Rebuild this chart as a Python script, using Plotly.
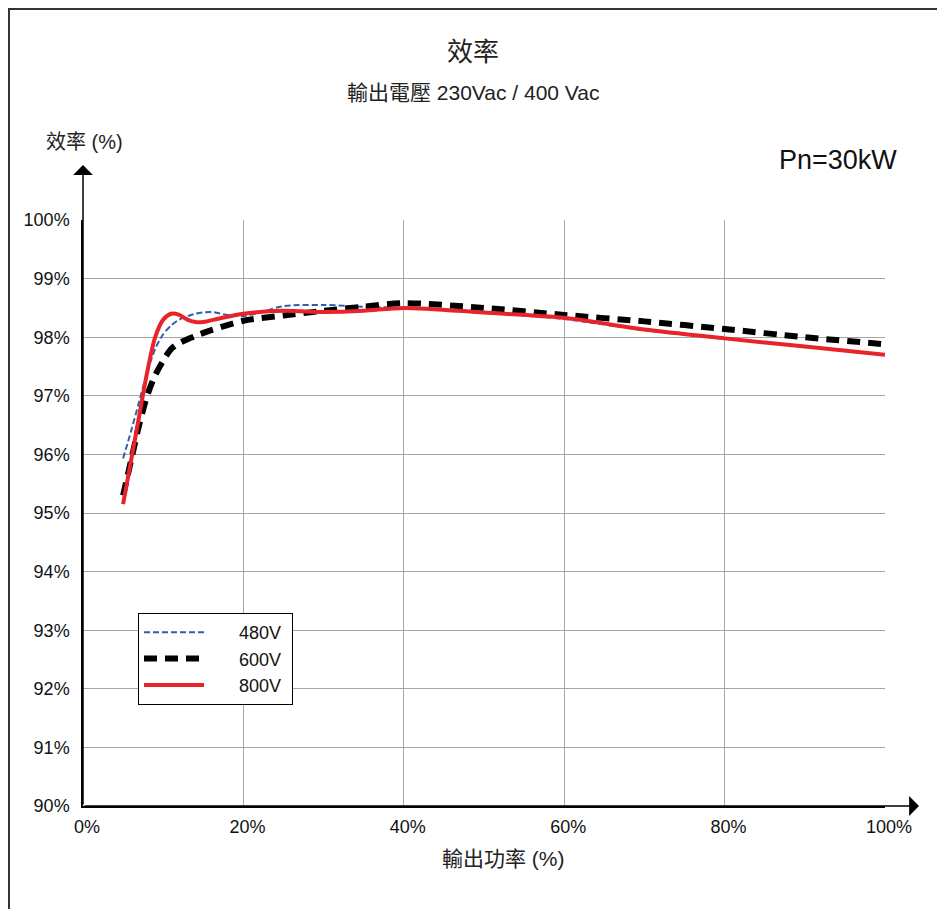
import plotly.graph_objects as go

# ---- data ----
load_480 = [5, 6, 7, 8, 9, 10, 11, 12, 14, 16, 18, 20, 22, 25, 30, 35, 40, 50, 60, 70, 80, 90, 100]
eff_480 = [95.93, 96.4, 96.9, 97.4, 97.8, 98.05, 98.2, 98.3, 98.4, 98.43, 98.38, 98.36, 98.42, 98.53,
           98.55, 98.52, 98.5, 98.42, 98.31, 98.12, 97.98, 97.84, 97.70]

load_600 = [5, 6, 7, 8, 9, 10, 11, 12, 14, 16, 20, 25, 30, 35, 40, 50, 60, 70, 80, 90, 100]
eff_600 = [95.3, 95.9, 96.5, 97.0, 97.35, 97.6, 97.8, 97.9, 98.02, 98.12, 98.28, 98.37, 98.45,
           98.52, 98.58, 98.5, 98.38, 98.27, 98.14, 98.0, 97.88]

load_800 = [5, 6, 7, 8, 9, 10, 11, 12, 13, 14, 15, 17, 20, 25, 30, 35, 40, 50, 60, 70, 80, 90, 100]
eff_800 = [95.15, 95.9, 96.65, 97.4, 98.0, 98.3, 98.4, 98.38, 98.3, 98.26, 98.26, 98.32, 98.4, 98.45,
           98.43, 98.45, 98.5, 98.42, 98.33, 98.13, 97.98, 97.84, 97.70]

series_names = ["480V", "600V", "800V"]
x_ticks = [0, 20, 40, 60, 80, 100]
y_ticks = [90, 91, 92, 93, 94, 95, 96, 97, 98, 99, 100]

title_text = "效率"
subtitle_text = "輸出電壓 230Vac / 400 Vac"
y_title = "效率 (%)"
x_title = "輸出功率 (%)"
rating_text = "Pn=30kW"

CJK = "Liberation Sans, Arial, Noto Sans CJK TC, Noto Sans CJK SC, sans-serif"
LAT = "Liberation Sans, Arial, sans-serif"

NB = "\u00a0"


def legend_label(s):
    return NB * 6 + s + NB


fig = go.Figure()
fig.add_trace(go.Scatter(x=load_480, y=eff_480, name=legend_label(series_names[0]), mode="lines",
                         line=dict(color="#2f5fad", width=2, dash="6px,3px", shape="spline", smoothing=0.8)))
fig.add_trace(go.Scatter(x=load_600, y=eff_600, name=legend_label(series_names[1]), mode="lines",
                         line=dict(color="#000000", width=6, dash="13px,8px", shape="spline", smoothing=0.8)))
fig.add_trace(go.Scatter(x=load_800, y=eff_800, name=legend_label(series_names[2]), mode="lines",
                         line=dict(color="#e8232a", width=4, shape="spline", smoothing=0.8)))

# page has an 8px body margin: figure is placed at (8, 8)
OFF = 8
W, H = 937, 901
L, T = 83 - OFF, 220 - OFF
R = W - (885 - OFF)
B = H - (806 - OFF)
pw, ph = W - L - R, H - T - B


def px_x(p):
    return (p - OFF - L) / pw


def px_y(p):
    return (H - B - (p - OFF)) / ph


fig.update_layout(
    width=W, height=H, autosize=False,
    margin=dict(l=L, r=R, t=T, b=B),
    paper_bgcolor="white", plot_bgcolor="white",
    showlegend=True,
    legend=dict(x=px_x(138), y=px_y(613), xanchor="left", yanchor="top",
                bordercolor="#000000", borderwidth=1, bgcolor="white",
                font=dict(family=LAT, size=18, color="#111"), itemwidth=60,
                traceorder="normal"),
    xaxis=dict(range=[0, 100], tickvals=x_ticks, ticktext=[f"{v}%" for v in x_ticks],
               showgrid=True, gridcolor="#a6a6a6", gridwidth=1, zeroline=False,
               showline=True, linecolor="#000", linewidth=1.5, ticks="",
               tickfont=dict(family=LAT, size=18, color="#111"), ticklabelstandoff=4,
               ticklabelshift=4),
    yaxis=dict(range=[90, 100], tickvals=y_ticks, ticktext=[f"{v}%" for v in y_ticks],
               showgrid=True, gridcolor="#a6a6a6", gridwidth=1, zeroline=False,
               showline=True, linecolor="#000", linewidth=1.5, ticks="",
               tickfont=dict(family=LAT, size=18, color="#111"), ticklabelstandoff=8),
)

fig.add_annotation(text=title_text, x=px_x(473), xref="paper", y=px_y(52), yref="paper", showarrow=False,
                   xanchor="center", yanchor="middle", font=dict(family=CJK, size=26, color="#222"))
fig.add_annotation(text=subtitle_text, x=px_x(473), xref="paper", y=px_y(92), yref="paper", showarrow=False,
                   xanchor="center", yanchor="middle", font=dict(family=CJK, size=21, color="#222"))
fig.add_annotation(text=y_title, x=px_x(84), xref="paper", y=px_y(142), yref="paper", showarrow=False,
                   xanchor="center", yanchor="middle", font=dict(family=CJK, size=20, color="#222"))
fig.add_annotation(text=x_title, x=px_x(503), xref="paper", y=px_y(858), yref="paper", showarrow=False,
                   xanchor="center", yanchor="middle", font=dict(family=CJK, size=21, color="#222"))
fig.add_annotation(text=rating_text, x=px_x(899), xref="paper", y=px_y(160), yref="paper", showarrow=False,
                   xanchor="right", yanchor="middle", font=dict(family=LAT, size=27, color="#111"))

# axis arrows
fig.add_annotation(x=px_x(919), y=0, xref="paper", yref="paper", ax=-(919 - 83), ay=0,
                   axref="pixel", ayref="pixel", showarrow=True, arrowhead=1, arrowsize=2.2,
                   arrowwidth=1.5, arrowcolor="#000", text="")
fig.add_annotation(x=0, y=px_y(165), xref="paper", yref="paper", ax=0, ay=(806 - 165),
                   axref="pixel", ayref="pixel", showarrow=True, arrowhead=1, arrowsize=2.2,
                   arrowwidth=1.5, arrowcolor="#000", text="")

# outer frame
fig.add_shape(type="rect", xref="paper", yref="paper",
              x0=px_x(9), x1=px_x(940), y0=px_y(940), y1=px_y(9),
              line=dict(color="#333", width=2), fillcolor="rgba(0,0,0,0)", layer="below")

fig.write_html("out.html")
